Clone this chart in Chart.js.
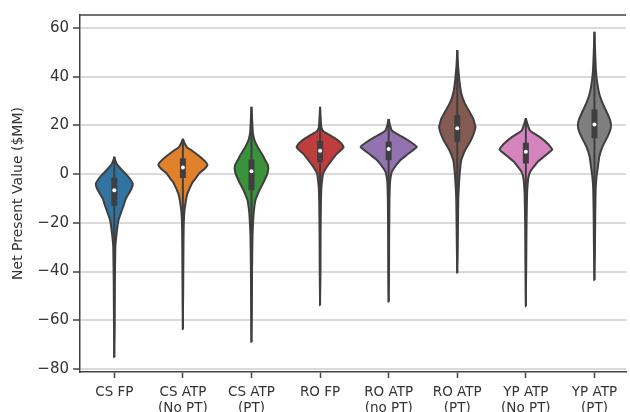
<!DOCTYPE html>
<html>
<head>
<meta charset="utf-8">
<script src="https://cdn.jsdelivr.net/npm/chart.js@4.4.0/dist/chart.umd.min.js"></script>
<style>
html, body { margin: 0; padding: 0; background: #fff; }
#wrap { width: 630px; height: 412px; }
</style>
</head>
<body>
<div id="wrap"><canvas id="chart"></canvas></div>
<script>
// Categories (x axis) and violin colours
const categories = [
    ['CS FP'], ['CS ATP', '(No PT)'], ['CS ATP', '(PT)'], ['RO FP'],
    ['RO ATP', '(no PT)'], ['RO ATP', '(PT)'], ['YP ATP', '(No PT)'], ['YP ATP', '(PT)']
];
const colors = ['#3274a1', '#e1812c', '#3a923a', '#c03d3e', '#9372b2', '#845b53', '#d684bd', '#7f7f7f'];
const yTicks = [-80, -60, -40, -20, 0, 20, 40, 60];

// Inner box stats ($MM)
const lows    = [-75.1, -63.7, -68.9, -53.8, -52.4, -40.5, -54.2, -43.5];
const highs   = [7.1, 14.5, 27.6, 27.6, 22.6, 50.9, 22.9, 58.4];
const q1      = [-13, -1.6, -6.6, 5, 5.7, 13.3, 4.4, 14.7];
const q3      = [-1.5, 6.5, 6, 13.7, 13.3, 24.2, 12.9, 26.6];
const medians = [-6.6, 2.7, 1.2, 9.6, 10.3, 18.8, 9.2, 20.4];

// Violin density profiles: levels ($MM, top to bottom) and half widths (category units)
const shapeLevels = [
    [7.1, 6, 4, 2, 0, -2, -4, -6, -8.5, -10, -13.4, -16, -19, -24, -30, -45, -60, -75.1],
    [14.5, 13, 11, 9.9, 7.1, 5, 3.7, 2, 0.4, -2, -3.2, -4.5, -6.6, -8, -10.7, -16, -25, -45, -63.7],
    [27.6, 22, 17, 14, 12, 9.9, 8, 5.7, 4, 2.3, 0, -2.5, -4, -6.6, -8, -10.7, -14.8, -19, -25, -40, -55, -68.9],
    [27.6, 22, 19, 17.5, 16.7, 14.7, 12.6, 11, 8.5, 5.7, 3, 0.3, -2.5, -6, -12, -25, -40, -53.8],
    [22.6, 20, 18, 16.5, 15.3, 13.2, 11.2, 9.5, 7.8, 6, 4.4, 2.5, 0.9, -1, -4, -10, -25, -40, -52.4],
    [50.9, 45, 38.6, 33, 29, 26, 23, 19.4, 17, 14, 11.5, 9.9, 7.5, 5.7, 3, 0.3, -4, -10, -20, -30, -40.5],
    [22.9, 20, 18, 16.5, 15.3, 12.5, 10.1, 8.5, 7.1, 5, 3, 1.3, -0.4, -3, -8, -20, -35, -54.2],
    [58.4, 50, 43, 38.6, 33, 29, 26, 22.5, 20.1, 18, 15.3, 11.2, 7.1, 3, -1.1, -6, -15, -28, -43.5]
];
const shapeWidths = [
    [0, 0.01, 0.04, 0.1, 0.17, 0.23, 0.27, 0.25, 0.2, 0.17, 0.13, 0.095, 0.06, 0.035, 0.015, 0.008, 0.005, 0],
    [0, 0.02, 0.06, 0.12, 0.25, 0.33, 0.357, 0.31, 0.24, 0.18, 0.145, 0.12, 0.087, 0.065, 0.045, 0.02, 0.01, 0.005, 0],
    [0, 0.01, 0.02, 0.043, 0.075, 0.116, 0.16, 0.2, 0.235, 0.245, 0.23, 0.19, 0.165, 0.116, 0.095, 0.058, 0.036, 0.025, 0.015, 0.008, 0.005, 0],
    [0, 0.01, 0.02, 0.05, 0.1, 0.22, 0.31, 0.343, 0.25, 0.17, 0.1, 0.045, 0.03, 0.018, 0.012, 0.007, 0.005, 0],
    [0, 0.02, 0.045, 0.12, 0.2, 0.32, 0.41, 0.34, 0.26, 0.18, 0.13, 0.08, 0.045, 0.03, 0.018, 0.012, 0.007, 0.005, 0],
    [0, 0.01, 0.03, 0.06, 0.11, 0.17, 0.23, 0.265, 0.245, 0.2, 0.15, 0.116, 0.08, 0.058, 0.045, 0.036, 0.025, 0.015, 0.01, 0.006, 0],
    [0, 0.03, 0.058, 0.13, 0.2, 0.32, 0.386, 0.32, 0.26, 0.17, 0.116, 0.07, 0.045, 0.03, 0.018, 0.01, 0.006, 0],
    [0, 0.01, 0.02, 0.035, 0.07, 0.12, 0.17, 0.225, 0.241, 0.23, 0.19, 0.116, 0.07, 0.05, 0.03, 0.018, 0.012, 0.008, 0]
];

const edge = '#3f3f3f';
const ink = '#333333';

// Build violin outline + inner box datasets
const datasets = [];
categories.forEach((cat, i) => {
    const lv = shapeLevels[i];
    const hw = shapeWidths[i];
    const pts = [];
    lv.forEach((v, k) => pts.push({ x: i + hw[k], y: v }));
    for (let k = lv.length - 2; k >= 0; k--) pts.push({ x: i - hw[k], y: lv[k] });

    datasets.push({
        type: 'line', data: pts, backgroundColor: colors[i], borderColor: edge,
        borderWidth: 2, fill: 'shape', tension: 0.1, pointRadius: 0, order: 3
    });
    datasets.push({
        type: 'line', data: [{ x: i, y: lows[i] }, { x: i, y: highs[i] }],
        borderColor: edge, borderWidth: 2, pointRadius: 0, fill: false, order: 2
    });
    datasets.push({
        type: 'line', data: [{ x: i, y: q1[i] }, { x: i, y: q3[i] }],
        borderColor: edge, borderWidth: 6, borderCapStyle: 'butt', pointRadius: 0, fill: false, order: 1
    });
    datasets.push({
        type: 'line', data: [{ x: i, y: medians[i] }], showLine: false,
        pointRadius: 2, pointBackgroundColor: '#ffffff', pointBorderWidth: 0, order: 0
    });
});

// Top spine of the axes frame
const topSpine = {
    id: 'topSpine',
    afterDraw(chart) {
        const { ctx, chartArea: a } = chart;
        ctx.save();
        ctx.strokeStyle = '#444';
        ctx.lineWidth = 1.5;
        ctx.beginPath();
        ctx.moveTo(a.left, a.top);
        ctx.lineTo(a.right, a.top);
        ctx.stroke();
        ctx.restore();
    }
};

Chart.defaults.font.family = 'DejaVu Sans';

new Chart(document.getElementById('chart'), {
    type: 'line',
    data: { datasets: datasets },
    plugins: [topSpine],
    options: {
        responsive: true,
        maintainAspectRatio: false,
        animation: false,
        layout: { padding: { top: 15, right: 0, left: 0, bottom: 0 } },
        plugins: { legend: { display: false }, tooltip: { enabled: false } },
        scales: {
            x: {
                type: 'linear', min: -0.5, max: 7.46,
                afterBuildTicks: s => { s.ticks = categories.map((c, i) => ({ value: i })); },
                afterFit: s => { s.height = 40; },
                ticks: {
                    autoSkip: false, maxRotation: 0, padding: 6, color: ink,
                    font: { size: 13.5 },
                    callback: v => categories[v]
                },
                grid: { drawOnChartArea: false, tickLength: 6, tickColor: '#444', tickWidth: 1.5 },
                border: { color: '#444', width: 1.5 }
            },
            y: {
                min: -81.2, max: 65.3,
                afterBuildTicks: s => { s.ticks = yTicks.map(v => ({ value: v })); },
                afterFit: s => { s.width = 80; },
                ticks: {
                    padding: 4, color: ink, font: { size: 15 },
                    callback: v => String(v).replace('-', '\u2212')
                },
                grid: { color: '#dadada', lineWidth: 2, tickLength: 7, tickColor: '#444', tickWidth: 1.5 },
                border: { color: '#444', width: 1.5 },
                title: {
                    display: true, text: 'Net Present Value ($MM)', color: ink,
                    font: { size: 14 }, padding: { top: 10, bottom: 0 }
                }
            }
        }
    }
});
</script>
</body>
</html>
